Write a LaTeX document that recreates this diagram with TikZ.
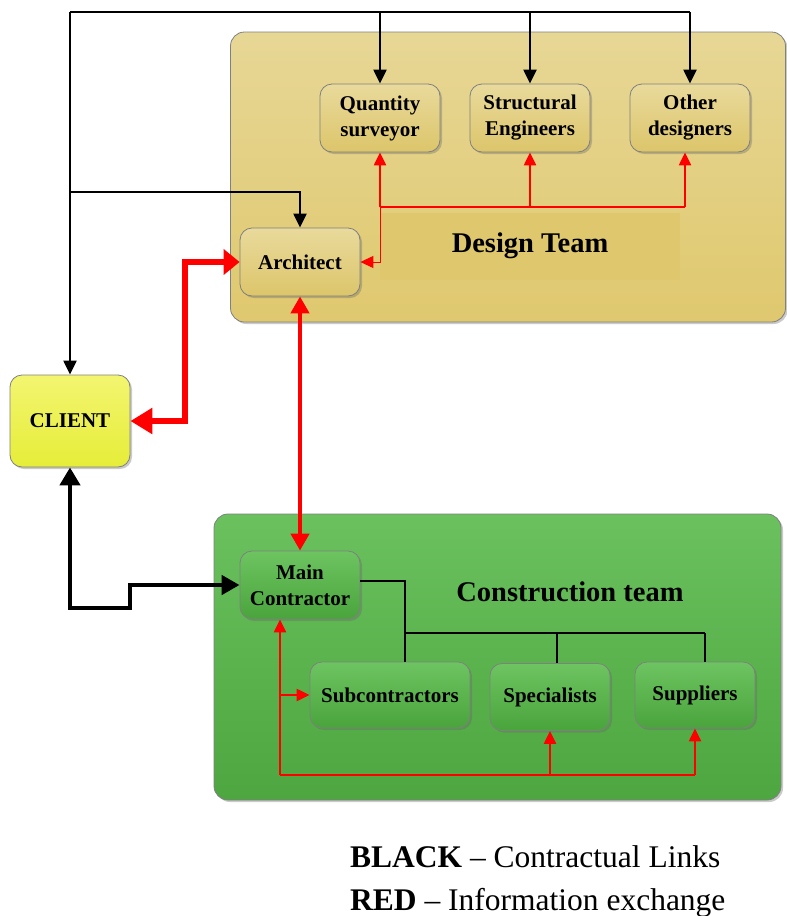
\documentclass[tikz,border=0pt]{standalone}
\usepackage{fontspec}
\setmainfont{Liberation Serif}
\usetikzlibrary{arrows.meta,shadows,calc}

\definecolor{edge}{HTML}{7F8080}
\definecolor{dpanTop}{HTML}{E7D796}
\definecolor{dpanBot}{HTML}{DFC86E}
\definecolor{dnodeTop}{HTML}{E9DA9C}
\definecolor{dnodeBot}{HTML}{DCC56A}
\definecolor{dlabel}{HTML}{DEC76C}
\definecolor{gpanTop}{HTML}{6AC15E}
\definecolor{gpanBot}{HTML}{4DA63F}
\definecolor{gnodeTop}{HTML}{6DC461}
\definecolor{gnodeBot}{HTML}{4AA43C}
\definecolor{cliTop}{HTML}{F3F570}
\definecolor{cliBot}{HTML}{E6ED38}
\definecolor{infored}{HTML}{FF0000}

\tikzset{
  x=1pt, y=-1pt,
  shade/.style={drop shadow={shadow xshift=2pt, shadow yshift=-2pt, opacity=0.35, fill=black!60}},
  panel/.style={draw=edge, line width=0.8pt, rounded corners=14pt, inner sep=0pt, shade},
  unit/.style={draw=edge, line width=0.8pt, rounded corners=12pt, align=center,
    font=\bfseries\fontsize{21}{26}\selectfont, minimum width=120pt, minimum height=68pt,
    inner sep=2pt, shade},
  designunit/.style={unit, top color=dnodeTop, bottom color=dnodeBot},
  buildunit/.style={unit, top color=gnodeTop, bottom color=gnodeBot},
  clientunit/.style={unit, top color=cliTop, bottom color=cliBot, minimum height=92pt},
  teamlabel/.style={font=\bfseries\fontsize{28.5}{32}\selectfont},
  contract/.style={draw=black, line width=2.2pt, line join=miter},
  contractarrow/.style={contract, -{Triangle[length=14pt,width=13pt]}},
  contractthick/.style={draw=black, line width=4.5pt, {Triangle[length=18pt,width=20pt]}-{Triangle[length=18pt,width=19pt]}},
  info/.style={draw=infored, line width=2.2pt},
  infoarrow/.style={info, -{Triangle[length=13pt,width=12pt]}},
  infomid/.style={draw=infored, line width=4.5pt, {Triangle[length=17pt,width=18pt]}-{Triangle[length=17pt,width=18pt]}},
  infothick/.style={draw=infored, line width=6.5pt, {Triangle[length=22pt,width=25pt]}-{Triangle[length=16pt,width=25pt]}},
  legend/.style={anchor=base west, inner sep=0pt, font=\fontsize{31.5}{36}\selectfont}
}

\begin{document}
\begin{tikzpicture}
\useasboundingbox (0,0) rectangle (787,916);

% team panels
\node[panel, top color=dpanTop, bottom color=dpanBot, minimum width=555pt, minimum height=290pt]
  (designpanel) at (508,177) {};
\fill[dlabel] (380,213) rectangle (680,280);
\node[teamlabel] (designlabel) at (530,246) {Design Team};

\node[panel, top color=gpanTop, bottom color=gpanBot, minimum width=567pt, minimum height=286pt]
  (buildpanel) at (497.5,657) {};
\node[teamlabel] (buildlabel) at (570,592) {Construction team};

% design team members
\node[designunit] (qs)   at (380,118) {Quantity\\surveyor};
\node[designunit] (se)   at (530,118) {Structural\\Engineers};
\node[designunit] (od)   at (690,118) {Other\\designers};
\node[designunit] (arch) at (300,262) {Architect};

% client
\node[clientunit] (client) at (70,421) {CLIENT};

% construction team members
\node[buildunit] (mc)   at (300,585) {Main\\Contractor};
\node[buildunit, minimum width=160pt, minimum height=66pt] (sub) at (390,695) {Subcontractors};
\node[buildunit, minimum height=67pt] (spec) at (550,697) {Specialists};
\node[buildunit, minimum height=66pt] (sup)  at (695,695) {Suppliers};

% contractual links (black)
\coordinate (topleft) at (70,12);
\coordinate (archtap) at (70,192);
\draw[contract] (topleft) -- (690,12);
\draw[contractarrow] (topleft) -- (client.north);
\draw[contractarrow] (qs.north |- topleft) -- (qs.north);
\draw[contractarrow] (se.north |- topleft) -- (se.north);
\draw[contractarrow] (od.north |- topleft) -- (od.north);
\draw[contractarrow] (archtap) -| (arch.north);

\draw[contractthick] (client.south) -- (70,608) -- (130,608) -- (130,585) -- (mc.west);

\coordinate (mcelbow) at (405,581);
\coordinate (mcbranch) at (405,633);
\coordinate (specdrop) at (557,633);
\coordinate (supdrop) at (705,633);
\draw[contract] (mc.east |- mcelbow) -- (mcelbow) -- (mcelbow |- sub.north);
\draw[contract] (mcbranch) -- (supdrop);
\draw[contract] (specdrop) -- (specdrop |- spec.north);
\draw[contract] (supdrop) -- (supdrop |- sup.north);

% information exchange (red)
\draw[infothick] (client.east) -- (185,421) -- (185,262) -- (arch.west);
\draw[infomid] (arch.south) -- (mc.north);

\coordinate (designhub) at (380,207);
\coordinate (othertap) at (685,207);
\draw[info] (designhub) -- (othertap);
\draw[infoarrow] (designhub) -- (qs.south);
\draw[infoarrow] (se.south |- designhub) -- (se.south);
\draw[infoarrow] (othertap) -- (othertap |- od.south);
\draw[draw=infored, line width=1pt, -{Triangle[length=13pt,width=12pt]}] (designhub) -- (380,262) -- (arch.east);

\coordinate (buildhub) at (280,775);
\coordinate (subtap) at (280,695);
\draw[info] (buildhub) -- (sup.south |- buildhub);
\draw[infoarrow] (buildhub) -- (buildhub |- mc.south);
\draw[infoarrow] (spec.south |- buildhub) -- (spec.south);
\draw[infoarrow] (sup.south |- buildhub) -- (sup.south);
\draw[infoarrow] (subtap) -- (sub.west);

% key
\node[legend] (keyblack) at (350,867) {\textbf{BLACK} – Contractual Links};
\node[legend] (keyred)   at (350,910) {\textbf{RED} – Information exchange};
\end{tikzpicture}
\end{document}
